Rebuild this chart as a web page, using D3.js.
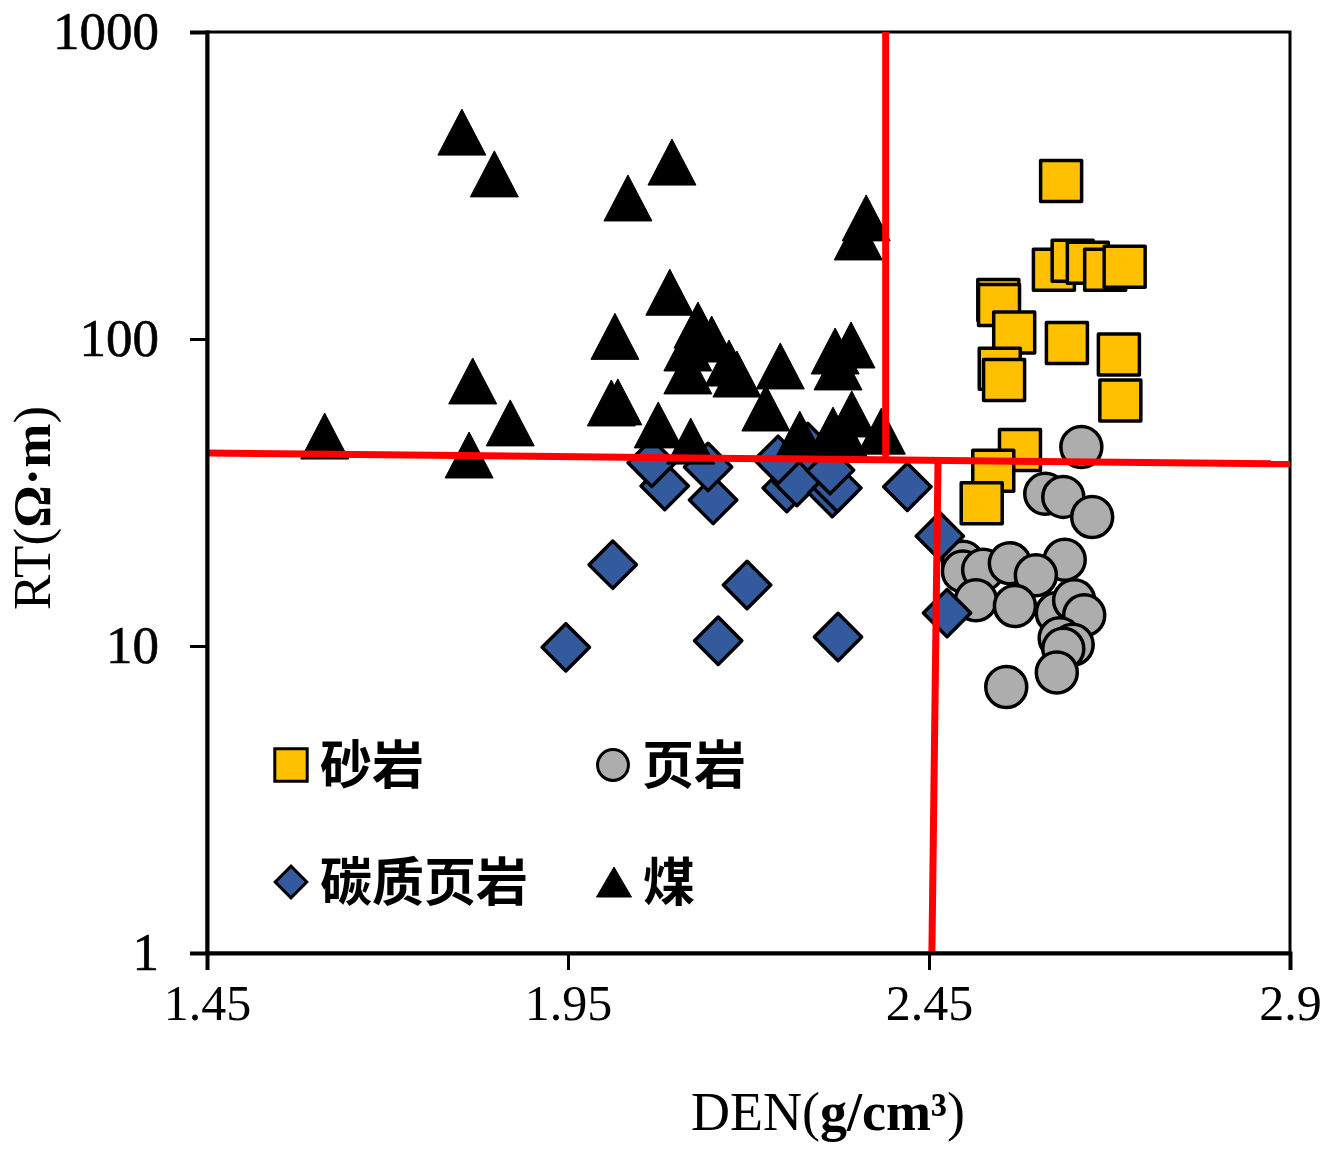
<!DOCTYPE html>
<html>
<head>
<meta charset="utf-8">
<script src="https://cdn.jsdelivr.net/npm/d3@7"></script>
<style>
  body { margin: 0; background: #fff; }
  svg { display: block; }
</style>
</head>
<body>
<script>
// sample points: [DEN, RT]
var sandstone = [
  [2.633, 327], [2.623, 168], [2.649, 180], [2.670, 177], [2.694, 168],
  [2.721, 172], [2.546, 134], [2.547, 129], [2.568, 105], [2.641, 97],
  [2.713, 89], [2.715, 63], [2.548, 80], [2.554, 73.5], [2.576, 43.5],
  [2.539, 37.2], [2.523, 29.2]
];
var shale = [
  [2.661, 44.5], [2.611, 31.3], [2.636, 30.6], [2.676, 26.3], [2.497, 18.8],
  [2.497, 17.5], [2.525, 17.7], [2.562, 18.6], [2.638, 19.1], [2.598, 17.0],
  [2.515, 14.1], [2.569, 13.5], [2.627, 12.8], [2.651, 14.1], [2.665, 12.6],
  [2.631, 10.6], [2.649, 10.1], [2.636, 9.8], [2.627, 8.2], [2.557, 7.35]
];
var carbShale = [
  [1.947, 9.9], [2.012, 18.4], [2.198, 15.8], [2.158, 10.4], [2.324, 10.7],
  [2.420, 33.0], [2.465, 22.8], [2.475, 12.8], [2.084, 33.2], [2.066, 39.5],
  [2.151, 29.9], [2.144, 38.3], [2.253, 32.7], [2.267, 34.2], [2.241, 40.4],
  [2.316, 31.5], [2.323, 32.7], [2.313, 37.4], [2.282, 44.5]
];
var coal = [
  [1.803, 472], [1.848, 345], [2.033, 288], [2.094, 377], [2.091, 142],
  [2.015, 102], [1.818, 73], [2.010, 61.9], [2.019, 62.4], [1.870, 53.3],
  [1.613, 48.3], [1.813, 41.9], [2.075, 52.5], [2.120, 46.5], [2.130, 111],
  [2.149, 100], [2.116, 93.5], [2.116, 78.7], [2.173, 83.5], [2.184, 76.9],
  [2.244, 81.7], [2.224, 59.6], [2.320, 91.4], [2.342, 95.6], [2.324, 81.1],
  [2.271, 49.0], [2.317, 50.5], [2.343, 57.0], [2.384, 50.1], [2.363, 248],
  [2.352, 215], [2.334, 47.6]
];

// dividing lines (red)
var cutRT = [[1.45, 42.5], [2.95, 39.2]];
var cutUpper = [[2.390, 1000], [2.390, 40.4]];
var cutLower = [[2.4625, 40.4], [2.454, 1]];

var xTicks = [1.45, 1.95, 2.45, 2.95];
var xTickLabels = ['1.45', '1.95', '2.45', '2.9'];
var yTicks = [1, 10, 100, 1000];

var legendNames = ['砂岩', '页岩', '碳质页岩', '煤'];

var width = 1322, height = 1160;
var margin = {top: 32, right: 32, bottom: 207, left: 207};

var svg = d3.select('body').append('svg')
    .attr('width', width)
    .attr('height', height);

var x = d3.scaleLinear()
    .domain([1.45, 2.95])
    .range([margin.left, width - margin.right]);
var y = d3.scaleLog()
    .domain([1, 1000])
    .range([height - margin.bottom, margin.top]);

// triangle centred on its bounding box, like the spreadsheet marker
function triangle(w, h) {
  return {
    draw: function(ctx) {
      ctx.moveTo(0, -h / 2);
      ctx.lineTo(w / 2, h / 2);
      ctx.lineTo(-w / 2, h / 2);
      ctx.closePath();
    }
  };
}

var styles = [
  {data: sandstone, type: d3.symbolSquare, size: 1681, lsize: 1050, fill: '#FFC000', rot: 0},
  {data: shale, type: d3.symbolCircle, size: 1320, lsize: 750, fill: '#ADADAD', rot: 0},
  {data: carbShale, type: d3.symbolSquare, size: 1120, lsize: 500, fill: '#345A9E', rot: 45},
  {data: coal, type: null, size: 0, lsize: 0, fill: '#000', rot: 0}
];

// plot frame
svg.append('rect')
    .attr('x', x(1.45))
    .attr('y', y(1000))
    .attr('width', x(2.95) - x(1.45))
    .attr('height', y(1) - y(1000))
    .attr('fill', 'none')
    .attr('stroke', '#000')
    .attr('stroke-width', 3);

// markers
styles.forEach(function(s, i) {
  var sym = s.type ? d3.symbol().type(s.type).size(s.size)
                   : d3.symbol().type(triangle(48, 46));
  svg.append('g').selectAll('path')
      .data(s.data)
      .enter()
    .append('path')
      .attr('d', sym)
      .attr('transform', function(d) {
        return 'translate(' + x(d[0]) + ',' + y(d[1]) + ') rotate(' + s.rot + ')';
      })
      .attr('fill', s.fill)
      .attr('stroke', '#000')
      .attr('stroke-width', s.type ? 3.5 : 1)
      .attr('stroke-linejoin', 'round');
});

// red division lines
var line = d3.line()
    .x(function(d) { return x(d[0]); })
    .y(function(d) { return y(d[1]); });
[cutRT, cutUpper, cutLower].forEach(function(l) {
  svg.append('path')
      .attr('d', line(l))
      .attr('fill', 'none')
      .attr('stroke', '#FF0000')
      .attr('stroke-width', 7);
});

// axes
var xAxis = d3.axisBottom(x)
    .tickValues(xTicks)
    .tickFormat(function(d, i) { return xTickLabels[i]; })
    .tickSize(17)
    .tickPadding(14);
var yAxis = d3.axisLeft(y)
    .tickValues(yTicks)
    .tickFormat(d3.format('d'))
    .tickSize(17)
    .tickPadding(31);

var gx = svg.append('g')
    .attr('transform', 'translate(0,' + y(1) + ')')
    .call(xAxis);
gx.select('.domain').attr('stroke-width', 4);
gx.selectAll('.tick line').attr('stroke-width', 3);
gx.selectAll('.tick text')
    .attr('font-family', '"Liberation Serif", serif')
    .attr('font-size', 50)
    .attr('fill', '#000');

var gy = svg.append('g')
    .attr('transform', 'translate(' + x(1.45) + ',0)')
    .call(yAxis);
gy.select('.domain').attr('stroke-width', 4);
gy.selectAll('.tick line').attr('stroke-width', 3);
gy.selectAll('.tick text')
    .attr('font-family', '"Liberation Serif", serif')
    .attr('font-size', 53)
    .attr('stroke', '#000')
    .attr('stroke-width', 0.6)
    .attr('fill', '#000');

// axis titles
var xt = svg.append('text')
    .attr('x', 828)
    .attr('y', 1130)
    .attr('text-anchor', 'middle')
    .attr('font-family', '"Liberation Serif", serif')
    .attr('font-size', 54);
xt.append('tspan').text('DEN(');
xt.append('tspan').attr('font-weight', 'bold').text('g/cm³');
xt.append('tspan').text(')');

var yt = svg.append('text')
    .attr('transform', 'translate(50,508) rotate(-90)')
    .attr('text-anchor', 'middle')
    .attr('font-family', '"Liberation Serif", serif')
    .attr('font-size', 53);
yt.append('tspan').text('RT(');
yt.append('tspan').attr('font-weight', 'bold').text('Ω·m');
yt.append('tspan').text(')');

// legend, two columns
var legendPos = [[291, 765], [613, 765], [291, 882], [614, 882]];
styles.forEach(function(s, i) {
  var g = svg.append('g')
      .attr('transform', 'translate(' + legendPos[i][0] + ',' + legendPos[i][1] + ')');
  var sym = s.type ? d3.symbol().type(s.type).size(s.lsize)
                   : d3.symbol().type(triangle(35, 30));
  g.append('path')
      .attr('d', sym)
      .attr('transform', 'rotate(' + s.rot + ')')
      .attr('fill', s.fill)
      .attr('stroke', '#000')
      .attr('stroke-width', s.type ? 3 : 1);
  g.append('text')
      .attr('x', 29)
      .attr('dy', '0.36em')
      .attr('font-family', '"Noto Sans CJK SC", sans-serif')
      .attr('font-size', 52)
      .attr('font-weight', 700)
      .text(legendNames[i]);
});
</script>
</body>
</html>
